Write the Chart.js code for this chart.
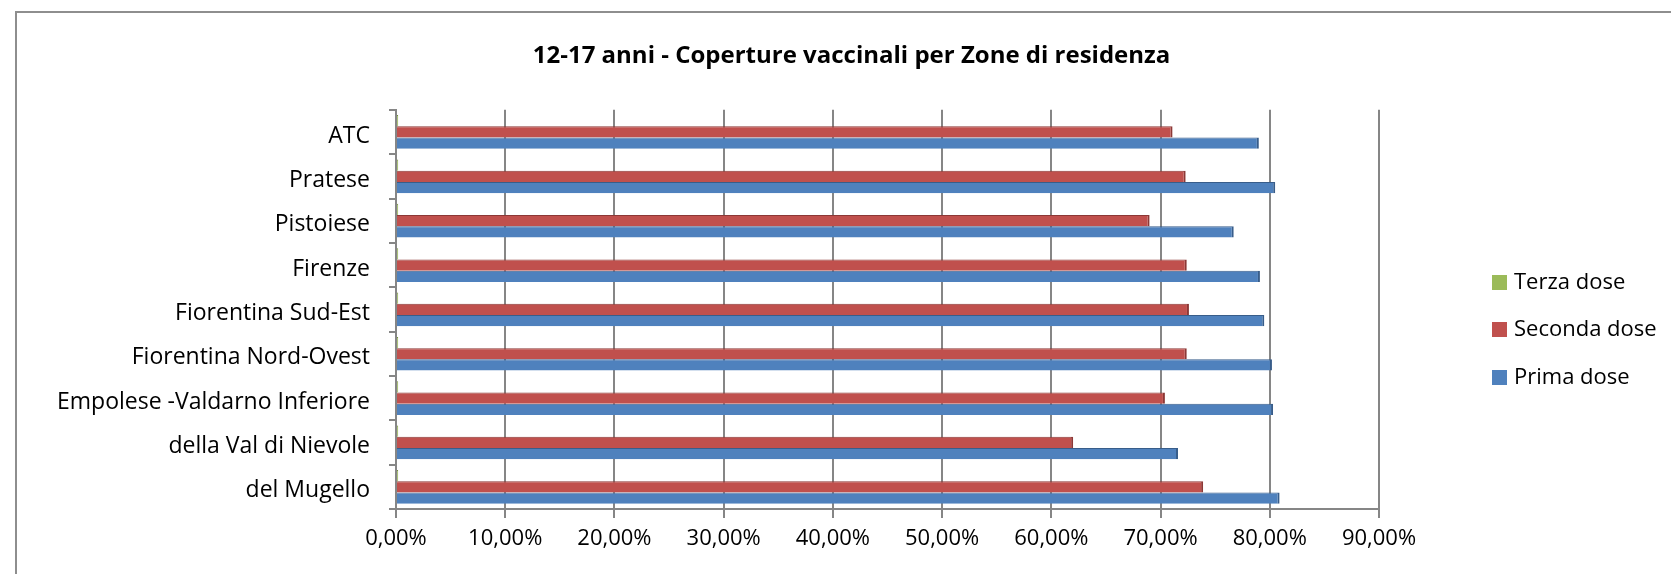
<!DOCTYPE html>
<html>
<head>
<meta charset="utf-8">
<script src="https://cdn.jsdelivr.net/npm/chart.js@4/dist/chart.umd.min.js"></script>
<style>
  body { margin: 0; background: #fff; }
  #wrap { position: relative; width: 1671px; height: 574px; overflow: hidden; }
  #frame { position: absolute; left: 15px; top: 11px; width: 1700px; height: 700px; border: 2px solid #8e8e8e; }
  #myChart { position: absolute; left: 0; top: 0; }
  .leg { position: absolute; left: 1492px; font: 22px "Open Sans", sans-serif; color: #000; height: 30px; line-height: 30px; }
  .leg span { display: inline-block; width: 15px; height: 15px; margin-right: 7px; vertical-align: -1px; }
</style>
</head>
<body>
<div id="wrap">
  <div id="frame"></div>
  <canvas id="myChart" width="1671" height="574"></canvas>
  <div id="legend"></div>
</div>
<script>
"use strict";

// zones, top to bottom as in the original
const zones = [
  "ATC",
  "Pratese",
  "Pistoiese",
  "Firenze",
  "Fiorentina Sud-Est",
  "Fiorentina Nord-Ovest",
  "Empolese -Valdarno Inferiore",
  "della Val di Nievole",
  "del Mugello"
];

// coverage in %
const terzaDose = [0.2, 0.2, 0.2, 0.2, 0.2, 0.2, 0.2, 0.2, 0.2];
const secondaDose = [71.1, 72.3, 69.0, 72.4, 72.6, 72.4, 70.4, 62.0, 73.9];
const primaDose = [79.0, 80.5, 76.7, 79.1, 79.5, 80.2, 80.3, 71.6, 80.9];

const xTicks = [0, 10, 20, 30, 40, 50, 60, 70, 80, 90];

const title = "12-17 anni - Coperture vaccinali per Zone di residenza";
const FONT = "'Open Sans', sans-serif";

const series = [
  { label: "Terza dose", data: terzaDose, color: "#9BBB59", edge: "#71893F" },
  { label: "Seconda dose", data: secondaDose, color: "#C0504D", edge: "#8C3836" },
  { label: "Prima dose", data: primaDose, color: "#4F81BD", edge: "#385D8A" }
];

// legend on the right
const legendTops = [265, 312, 360];
series.forEach((s, i) => {
  const d = document.createElement("div");
  d.className = "leg";
  d.style.top = legendTops[i] + "px";
  d.innerHTML = '<span style="background:' + s.color + '"></span>' + s.label;
  document.getElementById("legend").appendChild(d);
});

// centre the title over the whole frame, not just the plot side
const titleSpan = {
  id: "titleSpan",
  afterLayout(chart) {
    chart.titleBlock.left = 32;
    chart.titleBlock.right = 1671;
  }
};

const ctx = document.getElementById("myChart").getContext("2d");
const myChart = new Chart(ctx, {
  type: "bar",
  data: {
    labels: zones,
    datasets: series.map((s) => ({
      label: s.label,
      data: s.data,
      backgroundColor: s.color,
      borderColor: s.edge,
      borderWidth: { top: 1, right: 2, bottom: 0, left: 0 },
      borderSkipped: false,
      categoryPercentage: 0.76,
      barPercentage: 1.0
    }))
  },
  plugins: [titleSpan],
  options: {
    indexAxis: "y",
    responsive: false,
    animation: false,
    layout: { padding: { left: 0, right: 292, top: 0, bottom: 0 } },
    plugins: {
      legend: { display: false },
      tooltip: { enabled: false },
      title: {
        display: true,
        text: title,
        color: "#000",
        font: { family: FONT, size: 24, weight: "bold", lineHeight: 1.2 },
        padding: { top: 42, bottom: 39 }
      }
    },
    scales: {
      x: {
        min: 0,
        max: 90,
        afterBuildTicks: (scale) => {
          scale.ticks = xTicks.map((v) => ({ value: v }));
        },
        afterFit: (scale) => {
          scale.height = 65;
        },
        ticks: {
          color: "#000",
          font: { family: FONT, size: 22 },
          padding: 8,
          maxRotation: 0,
          callback: (v) => v.toFixed(2).replace(".", ",") + "%"
        },
        grid: { color: "#868686", lineWidth: 2, tickLength: 9 },
        border: { color: "#868686", width: 2 }
      },
      y: {
        afterFit: (scale) => {
          scale.width = 396;
        },
        ticks: {
          color: "#000",
          font: { family: FONT, size: 23 },
          padding: 19,
          labelOffset: 4
        },
        grid: {
          offset: true,
          drawOnChartArea: false,
          color: "#868686",
          lineWidth: 2,
          tickLength: 7
        },
        border: { color: "#868686", width: 2 }
      }
    }
  }
});
</script>
</body>
</html>
